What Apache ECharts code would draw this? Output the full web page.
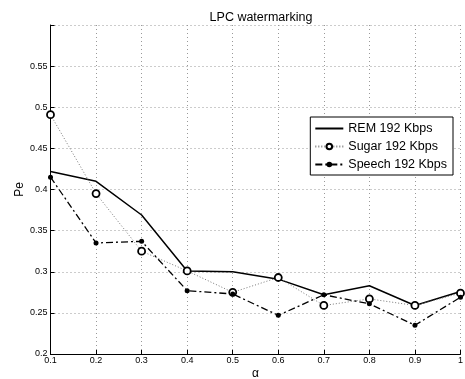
<!DOCTYPE html>
<html><head><meta charset="utf-8">
<script src="https://cdn.jsdelivr.net/npm/echarts@6/dist/echarts.min.js"></script>
<style>html,body{margin:0;padding:0;background:#fff}#c{width:465px;height:379px}</style>
</head><body><div id="c"></div>
<script>
const alphas = [0.1,0.2,0.3,0.4,0.5,0.6,0.7,0.8,0.9,1.0];
const remValues = [0.422,0.410,0.369,0.301,0.300,0.291,0.272,0.283,0.259,0.276];
const sugarValues = [0.491,0.395,0.325,0.301,0.275,0.293,0.259,0.267,0.259,0.274];
const speechValues = [0.415,0.335,0.337,0.277,0.273,0.247,0.272,0.261,0.235,0.269];
const seriesNames = ['REM 192 Kbps','Sugar 192 Kbps','Speech 192 Kbps'];
const yTicks = [0.2,0.25,0.3,0.35,0.4,0.45,0.5,0.55];

const F = 'Liberation Sans, Arial, sans-serif';
const pair = v => v.map((y,i)=>[alphas[i], y]);
const chart = echarts.init(document.getElementById('c'));
chart.setOption({
  animation:false,
  backgroundColor:'#fff',
  title:{text:'LPC watermarking', left:256, top:6, textAlign:'center',
    textStyle:{fontFamily:F,fontSize:12.5,fontWeight:'normal',color:'#000'}},
  grid:{left:50.5, right:4.5, top:25, bottom:25, containLabel:false, outerBoundsMode:'none'},
  legend:{
    orient:'vertical', right:12, top:117, itemGap:5, itemWidth:28, itemHeight:7,
    padding:[5,6,4,4], borderColor:'#000', borderWidth:1, backgroundColor:'#fff',
    textStyle:{fontFamily:F,fontSize:12.5,color:'#000'},
    data:[{name:seriesNames[0], itemStyle:{opacity:0}}, {name:seriesNames[1]}, {name:seriesNames[2]}]
  },
  xAxis:{type:'value', min:0.1, max:1, interval:0.1,
    name:'α', nameLocation:'middle', nameGap:14, nameMoveOverlap:false,
    nameTextStyle:{fontFamily:F,fontSize:12,color:'#000'},
    axisLine:{show:true,lineStyle:{color:'#000',width:1}},
    axisTick:{show:true,inside:true,length:4,lineStyle:{color:'#000'}},
    axisLabel:{fontFamily:F,fontSize:9,color:'#000',margin:2,
      formatter:v=>{const r=Math.round(v*10)/10; return r===1?'1':r.toFixed(1);}},
    splitLine:{show:true,lineStyle:{color:'#999',width:1,type:[1,3]}}
  },
  yAxis:{type:'value', min:0.2, max:0.6, interval:0.05,
    name:'Pe', nameLocation:'middle', nameGap:25, nameMoveOverlap:false,
    nameTextStyle:{fontFamily:F,fontSize:12,color:'#000'},
    axisLine:{show:true,lineStyle:{color:'#000',width:1}},
    axisTick:{show:true,inside:true,length:4,lineStyle:{color:'#000'}},
    axisLabel:{fontFamily:F,fontSize:9,color:'#000',margin:3,
      formatter:v=>{const r=Math.round(v*100)/100; return yTicks.some(t=>Math.abs(t-r)<1e-9)?String(r):'';}},
    splitLine:{show:true,lineStyle:{color:'#999',width:1,type:[1,3]}}
  },
  series:[
    {name:seriesNames[0], type:'line', data:pair(remValues), symbol:'none',
      lineStyle:{color:'#000',width:1.5,type:'solid'}, itemStyle:{color:'#000'}},
    {name:seriesNames[1], type:'line', data:pair(sugarValues), symbol:'circle', symbolSize:7,
      lineStyle:{color:'#777',width:1,type:[1,2]},
      itemStyle:{color:'#fff',borderColor:'#000',borderWidth:1.8}},
    {name:seriesNames[2], type:'line', data:pair(speechValues), symbol:'circle', symbolSize:5,
      lineStyle:{color:'#000',width:1.3,type:[7,3,2,3]},
      itemStyle:{color:'#000',borderColor:'#000',borderWidth:0}}
  ]
});
</script></body></html>
